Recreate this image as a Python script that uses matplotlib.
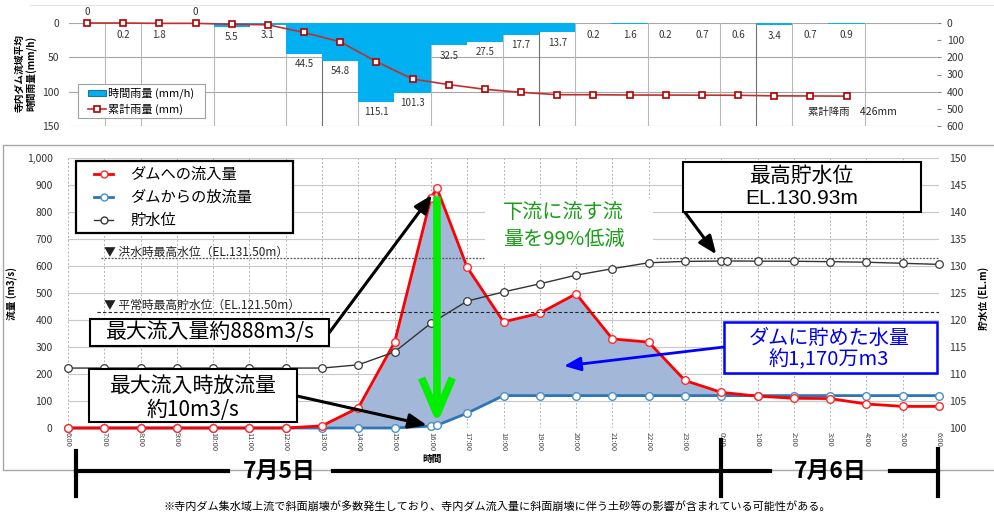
import matplotlib
matplotlib.use("Agg")
import matplotlib.pyplot as plt
from matplotlib.patches import Rectangle, FancyArrowPatch
from matplotlib.lines import Line2D

plt.rcParams["font.family"] = ["Noto Sans CJK JP", "DejaVu Sans"]

# ---------------- data ----------------
# hourly basin-average rainfall (mm/h), 6:00 7/5 onwards
rain_hourly = [0, 0.2, 1.8, 0, 5.5, 3.1, 44.5, 54.8, 115.1, 101.3, 32.5, 27.5,
               17.7, 13.7, 0.2, 1.6, 0.2, 0.7, 0.6, 3.4, 0.7, 0.9]
rain_hourly_labels = ["0", "0.2", "1.8", "0", "5.5", "3.1", "44.5", "54.8", "115.1",
                      "101.3", "32.5", "27.5", "17.7", "13.7", "0.2", "1.6", "0.2",
                      "0.7", "0.6", "3.4", "0.7", "0.9"]
# cumulative rainfall (mm)
rain_cumulative = [0, 0.2, 2.0, 2.0, 7.5, 10.6, 55.1, 109.9, 225.0, 326.3, 358.8, 386.3,
                   404.0, 417.7, 417.9, 419.5, 419.7, 420.4, 421.0, 424.4, 425.1, 426.0]
rain_total_text = "累計降雨　426mm"

# hours after 6:00 on 7/5 (10 + 10/60 = 16:10, peak inflow)
flow_hours = [0, 1, 2, 3, 4, 5, 6, 7, 8, 9, 10, 10 + 10 / 60, 11, 12, 13, 14, 15, 16,
              17, 18, 19, 20, 21, 22, 23, 24]
inflow = [0, 0, 0, 0, 0, 0, 0, 8, 75, 318, 852, 888, 595, 393, 425, 497, 330, 318,
          176, 132, 118, 110, 109, 89, 80, 80]
outflow = [0, 0, 0, 0, 0, 0, 0, 0, 0, 0, 7, 10, 55, 120, 120, 120, 120, 120,
           120, 120, 120, 120, 120, 120, 120, 120]
peak_index = 11

# reservoir water level (EL.m); 18 + 10/60 = 0:10 on 7/6, highest level
level_hours = [0, 1, 2, 3, 4, 5, 6, 7, 8, 9, 10, 11, 12, 13, 14, 15, 16, 17, 18,
               18 + 10 / 60, 19, 20, 21, 22, 23, 24]
level = [111.1, 111.1, 111.1, 111.1, 111.1, 111.1, 111.1, 111.1, 111.7, 114.1, 119.4,
         123.5, 125.2, 126.7, 128.3, 129.5, 130.6, 130.85, 130.92, 130.93, 130.9,
         130.88, 130.8, 130.7, 130.5, 130.3]
level_peak_index = 19

time_labels = ["6:00", "7:00", "8:00", "9:00", "10:00", "11:00", "12:00", "13:00",
               "14:00", "15:00", "16:00", "17:00", "18:00", "19:00", "20:00", "21:00",
               "22:00", "23:00", "0:00", "1:00", "2:00", "3:00", "4:00", "5:00", "6:00"]

flood_level = 131.50
normal_level = 121.50

# ---------------- figure ----------------
W, H = 994, 515
fig = plt.figure(figsize=(W / 100, H / 100), dpi=100)


def fx(px):
    return px / W


def fy(py):
    return 1 - py / H


def fpix(px, py):
    return (px, H - py)


def box(x0, y0, x1, y1, ec="black", lw=1.5, z=5):
    fig.add_artist(Rectangle((fx(x0), fy(y1)), (x1 - x0) / W, (y1 - y0) / H,
                             transform=fig.transFigure, facecolor="white",
                             edgecolor=ec, lw=lw, zorder=z))


def ftext(px, py, s, **kw):
    kw.setdefault("ha", "center")
    kw.setdefault("va", "center")
    kw.setdefault("zorder", 6)
    fig.text(fx(px), fy(py), s, **kw)


def fline(xs, ys, **kw):
    fig.add_artist(Line2D([fx(v) for v in xs], [fy(v) for v in ys],
                          transform=fig.transFigure, **kw))


# ================= rainfall panel =================
axr = fig.add_axes([fx(69), fy(126), 868 / W, 103 / H])
xs = list(range(len(rain_hourly)))
axr.bar(xs, rain_hourly, width=1.0, color="#00b0f0", lw=0, zorder=2)
axr.set_xlim(-0.5, 23.5)
axr.set_ylim(150, 0)
axr.set_yticks([0, 50, 100, 150])
axr.set_xticks([])
axr.grid(axis="y", color="#a6a6a6", lw=0.8)
axr.set_axisbelow(True)
for s in axr.spines.values():
    s.set_visible(False)
axr.tick_params(axis="y", length=0, pad=7, labelsize=7.5, labelcolor="#333333")

# category separators
for k in [1, 2, 4, 6, 7, 8, 10, 12, 13, 14, 16, 18, 19, 20, 22]:
    dark = k in (7, 13, 19)
    axr.axvline(k - 0.5, color="#6f6f6f" if dark else "#b8b8b8", lw=0.8, zorder=1)

for i, (v, lab) in enumerate(zip(rain_hourly, rain_hourly_labels)):
    if v == 0:
        axr.text(i, -16, lab, ha="center", va="center", fontsize=7, color="#333333")
    else:
        axr.text(i, max(v + 15, 17), lab, ha="center", va="center", fontsize=7,
                 color="#333333", zorder=4)

axc = axr.twinx()
axc.set_ylim(600, 0)
axc.set_yticks(range(0, 601, 100))
axc.plot(xs, rain_cumulative, color="#c03030", lw=1.2, marker="s", ms=5,
         mfc="white", mec="#b00000", mew=1.2, zorder=3, clip_on=False)
for s in axc.spines.values():
    s.set_visible(False)
axc.tick_params(axis="y", length=3, width=0.8, color="#888888", pad=4,
                labelsize=7.5, labelcolor="#333333")

fig.text(fx(26), fy(73), "寺内ダム流域平均\n時間雨量(mm/h)", rotation=90,
         ha="center", va="center", fontsize=7, fontweight="bold", linespacing=1.15)

# rainfall legend
box(78, 84, 205, 118, ec="#a0a0a0", lw=0.8)
fig.add_artist(Rectangle((fx(88), fy(96)), 18 / W, 6 / H, transform=fig.transFigure,
                         facecolor="#00b0f0", edgecolor="#2a6f9a", lw=0.8, zorder=6))
ftext(108, 93, "時間雨量 (mm/h)", ha="left", fontsize=8)
fline([88, 106], [109, 109], color="#c03030", lw=1.2, zorder=6)
fline([97], [109], color="#b00000", marker="s", ms=5, mfc="white", mew=1.2,
      lw=0, zorder=7)
ftext(108, 109, "累計雨量 (mm)", ha="left", fontsize=8)
ftext(808, 112, rain_total_text, ha="left", fontsize=7.5, color="#222222")

fline([30, 994], [5, 5], color="#e4e4e4", lw=0.8, zorder=0)

# ================= discharge panel =================
fig.add_artist(Rectangle((fx(3), fy(470)), 1.0, (470 - 145) / H,
                         transform=fig.transFigure, fill=False,
                         edgecolor="#a6a6a6", lw=1.0, zorder=0))

ax = fig.add_axes([fx(68), fy(428), 871 / W, 270 / H])
ax.set_xlim(0, 24)
ax.set_ylim(0, 1000)
ax.set_yticks(range(0, 1001, 100))
ax.set_yticklabels([f"{v:,}" for v in range(0, 1001, 100)])
ax.set_xticks(range(25))
ax.set_xticklabels(time_labels)
ax.grid(axis="y", color="#c8c8c8", lw=0.8)
ax.grid(axis="x", color="#b4b4b4", lw=0.7, ls=(0, (2, 2)))
ax.set_axisbelow(True)
for s in ax.spines.values():
    s.set_visible(False)
ax.tick_params(axis="y", length=0, pad=11, labelsize=7.5, labelcolor="#333333")
ax.tick_params(axis="x", length=0, pad=3, labelsize=5.5, labelrotation=270,
               labelcolor="#444444")

ax.fill_between(flow_hours, inflow, outflow,
                where=[a >= b for a, b in zip(inflow, outflow)], interpolate=True,
                color="#a3b8d9", lw=0, zorder=1)
ax.plot(flow_hours, outflow, color="#2e75b6", lw=2, marker="o", ms=5.5,
        mfc="white", mec="#4a90c8", mew=1, zorder=3, clip_on=False)
ax.plot(flow_hours, inflow, color="#ff0000", lw=2, marker="o", ms=5.5,
        mfc="white", mec="#ff2a2a", mew=1, zorder=4, clip_on=False)

ax2 = ax.twinx()
ax2.set_ylim(100, 150)
ax2.set_yticks(range(100, 151, 5))
for s in ax2.spines.values():
    s.set_visible(False)
ax2.tick_params(axis="y", length=0, pad=7, labelsize=7.5, labelcolor="#333333")
ax2.plot(level_hours, level, color="#333333", lw=1, marker="o", ms=5.5,
         mfc="white", mec="#3a3a3a", mew=0.9, zorder=3, clip_on=False)

# white backing behind the green note
ax2.add_patch(Rectangle((fx(485), fy(264)), 168 / W, 66 / H,
                        transform=fig.transFigure, facecolor="white",
                        edgecolor="none", zorder=1.5))

# reference water levels
ax2.hlines(flood_level, 0.9, 11.45, color="#555555", lw=0.9, ls=(0, (1.5, 1.2)),
           zorder=2)
ax2.hlines(flood_level, 16.2, 24, color="#555555", lw=0.9, ls=(0, (1.5, 1.2)),
           zorder=2)
ax2.hlines(normal_level, 0.8, 24, color="#222222", lw=0.8, ls=(0, (3, 2)), zorder=2)
ftext(104, 252, "▼ 洪水時最高水位（EL.131.50m）", ha="left", fontsize=8.5,
      color="#222222", zorder=3)
ftext(104, 305, "▼ 平常時最高貯水位（EL.121.50m）", ha="left", fontsize=8.5,
      color="#222222", zorder=3)

ftext(432, 459, "時間", fontsize=7, fontweight="bold")
fig.text(fx(12), fy(294), "流量 (m3/s)", rotation=90, ha="center", va="center",
         fontsize=7, fontweight="bold")
fig.text(fx(984), fy(298), "貯水位 (EL.m)", rotation=90, ha="center", va="center",
         fontsize=7, fontweight="bold")

# legend
box(76, 161, 293, 233, lw=1.6)
legend_rows = [("ダムへの流入量", "#ff0000", "#ff2a2a", 2, 174),
               ("ダムからの放流量", "#2e75b6", "#4a90c8", 2, 197),
               ("貯水位", "#333333", "#3a3a3a", 1, 220)]
for label, lc, mc, lw_, yy in legend_rows:
    fline([94, 113], [yy, yy], color=lc, lw=lw_, zorder=6)
    fline([103.5], [yy], color=mc, marker="o", ms=5, mfc="white", mew=1, lw=0,
          zorder=7)
    ftext(130, yy, label, ha="left", fontsize=11)

# callouts
arrow_k = dict(arrowstyle="-|>,head_length=1.1,head_width=0.45", mutation_scale=10,
               color="black", lw=2.2, shrinkA=0)

box(90, 319, 329, 346)
ftext(210, 332, "最大流入量約888m3/s", fontsize=15)
ax2.annotate("", xy=(flow_hours[peak_index], inflow[peak_index]),
             xycoords=ax.transData, xytext=fpix(329, 333),
             textcoords="figure pixels",
             arrowprops=dict(arrow_k, shrinkB=6), zorder=7)

box(89, 369, 297, 422)
ftext(193, 386, "最大流入時放流量", fontsize=15)
ftext(193, 410, "約10m3/s", fontsize=15)
ax2.annotate("", xy=(flow_hours[10], outflow[10]), xycoords=ax.transData,
             xytext=fpix(297, 396), textcoords="figure pixels",
             arrowprops=dict(arrow_k, shrinkB=3), zorder=7)

# green reduction arrow
ax2.annotate("", xy=(flow_hours[peak_index], outflow[peak_index]),
             xycoords=ax.transData,
             xytext=(flow_hours[peak_index], inflow[peak_index]),
             textcoords=ax.transData,
             arrowprops=dict(arrowstyle="->,head_length=2.6,head_width=1.1",
                             mutation_scale=10, color="#00ee00", lw=5.5,
                             shrinkA=6, shrinkB=1, capstyle="butt"), zorder=8)
ftext(503, 212, "下流に流す流", ha="left", fontsize=14.5, color="#1a9e1a")
ftext(503, 239, "量を99%低減", ha="left", fontsize=14.5, color="#1a9e1a")

box(683, 162, 921, 212)
ftext(802, 176, "最高貯水位", fontsize=15)
ftext(802, 199, "EL.130.93m", fontsize=15, family=["Liberation Sans", "DejaVu Sans"])
ax2.annotate("", xy=(level_hours[level_peak_index - 1], level[level_peak_index - 1]),
             xycoords="data", xytext=fpix(684, 211), textcoords="figure pixels",
             arrowprops=dict(arrow_k, shrinkB=6), zorder=7)

box(724, 322, 937, 373, ec="#0000ff", lw=1.8)
ftext(829, 338, "ダムに貯めた水量", fontsize=14.5, color="#0000ee")
ftext(829, 360, "約1,170万m3", fontsize=14.5, color="#0000ee")
fig.add_artist(FancyArrowPatch(
    (fx(724), fy(347)), (fx(564), fy(366)), transform=fig.transFigure,
    arrowstyle="-|>,head_length=1.0,head_width=0.42", mutation_scale=10,
    color="#0000ff", lw=2, shrinkA=0, shrinkB=0, zorder=6))

# ================= date bracket and note =================
fline([76, 228], [471, 471], color="black", lw=3, zorder=3)
fline([333, 770], [471, 471], color="black", lw=3, zorder=3)
fline([890, 938], [471, 471], color="black", lw=3, zorder=3)
fline([76, 76], [451, 496], color="black", lw=3, zorder=3)
fline([721, 721], [440, 496], color="black", lw=3, zorder=3)
fline([938, 938], [449, 496], color="black", lw=3, zorder=3)
ftext(279, 471, "7月5日", fontsize=16.5, fontweight="bold")
ftext(830, 471, "7月6日", fontsize=16.5, fontweight="bold")
ftext(497, 506, "※寺内ダム集水域上流で斜面崩壊が多数発生しており、寺内ダム流入量に斜面崩壊に伴う土砂等の影響が含まれている可能性がある。",
      fontsize=8)

fig.savefig("out.png", dpi=100)
